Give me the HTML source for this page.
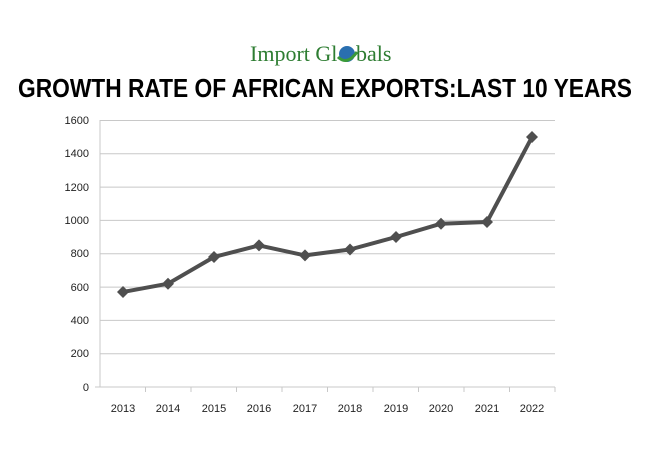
<!DOCTYPE html>
<html><head><style>
body{margin:0;background:#fff;width:650px;height:450px;overflow:hidden;font-family:"Liberation Sans",sans-serif}
</style></head><body>
<svg width="650" height="450" xmlns="http://www.w3.org/2000/svg">
<text x="250" y="61" font-family="Liberation Serif,serif" font-size="22" fill="#2e7d32">Import Gl</text>
<circle cx="347" cy="54" r="8" fill="#2a6fb0"/>
<path d="M338 57 Q347 66 357 52" stroke="#3a9a3a" stroke-width="3" fill="none"/>
<text x="356" y="61" font-family="Liberation Serif,serif" font-size="22" fill="#2e7d32">bals</text>
<text x="325" y="97" text-anchor="middle" font-family="Liberation Sans,sans-serif" font-weight="bold" font-size="25.5" fill="#000" textLength="614" lengthAdjust="spacingAndGlyphs">GROWTH RATE OF AFRICAN EXPORTS:LAST 10 YEARS</text>
<g stroke="#c8c8c8" stroke-width="1">
<line x1="100" y1="120.5" x2="555" y2="120.5"/>
<line x1="100" y1="153.8" x2="555" y2="153.8"/>
<line x1="100" y1="187.1" x2="555" y2="187.1"/>
<line x1="100" y1="220.4" x2="555" y2="220.4"/>
<line x1="100" y1="253.8" x2="555" y2="253.8"/>
<line x1="100" y1="287.1" x2="555" y2="287.1"/>
<line x1="100" y1="320.4" x2="555" y2="320.4"/>
<line x1="100" y1="353.7" x2="555" y2="353.7"/>
<line x1="100" y1="387" x2="555" y2="387"/>
<line x1="100" y1="120" x2="100" y2="387"/>
<line x1="95" y1="387" x2="100" y2="387"/>
</g>
<g stroke="#c8c8c8">
<line x1="145.5" y1="387" x2="145.5" y2="392"/><line x1="191" y1="387" x2="191" y2="392"/><line x1="236.5" y1="387" x2="236.5" y2="392"/><line x1="282" y1="387" x2="282" y2="392"/><line x1="327.5" y1="387" x2="327.5" y2="392"/><line x1="373" y1="387" x2="373" y2="392"/><line x1="418.5" y1="387" x2="418.5" y2="392"/><line x1="464" y1="387" x2="464" y2="392"/><line x1="509.5" y1="387" x2="509.5" y2="392"/><line x1="555" y1="387" x2="555" y2="392"/>
</g>
<g font-size="11" fill="#222" text-anchor="end">
<text x="89" y="124">1600</text><text x="89" y="157">1400</text><text x="89" y="191">1200</text><text x="89" y="224">1000</text><text x="89" y="257">800</text><text x="89" y="291">600</text><text x="89" y="324">400</text><text x="89" y="357">200</text><text x="89" y="391">0</text>
</g>
<g font-size="11" fill="#222" text-anchor="middle">
<text x="123" y="412">2013</text><text x="168" y="412">2014</text><text x="214" y="412">2015</text><text x="259" y="412">2016</text><text x="305" y="412">2017</text><text x="350" y="412">2018</text><text x="396" y="412">2019</text><text x="441" y="412">2020</text><text x="487" y="412">2021</text><text x="532" y="412">2022</text>
</g>
<polyline fill="none" stroke="#4f4f4f" stroke-width="4" stroke-linejoin="round" points="123,292 168,283.7 214,257 259,245.4 305,255.4 350,249.5 396,237 441,223.7 487,222 532,137"/>
<g fill="#4f4f4f">
<path d="M123 286l6 6-6 6-6-6z"/><path d="M168 277.7l6 6-6 6-6-6z"/><path d="M214 251l6 6-6 6-6-6z"/><path d="M259 239.4l6 6-6 6-6-6z"/><path d="M305 249.4l6 6-6 6-6-6z"/><path d="M350 243.5l6 6-6 6-6-6z"/><path d="M396 231l6 6-6 6-6-6z"/><path d="M441 217.7l6 6-6 6-6-6z"/><path d="M487 216l6 6-6 6-6-6z"/><path d="M532 131l6 6-6 6-6-6z"/>
</g>
</svg>
</body></html>
